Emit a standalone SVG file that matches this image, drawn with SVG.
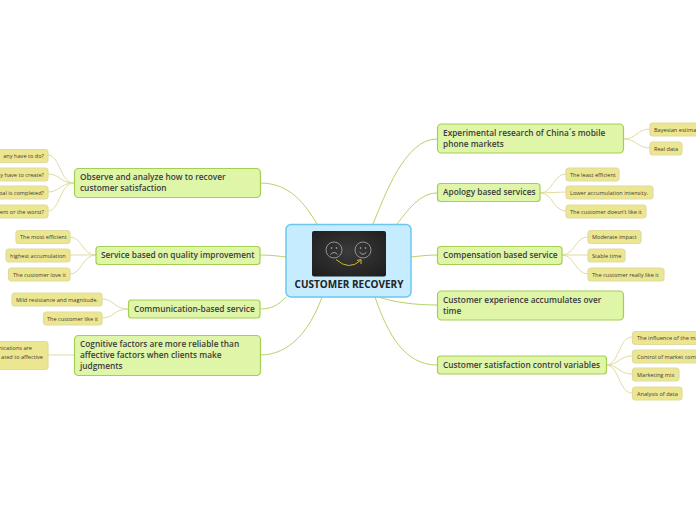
<svg xmlns="http://www.w3.org/2000/svg" width="696" height="520" viewBox="0 0 696 520">
<defs><radialGradient id="board" cx="50%" cy="45%" r="70%"><stop offset="0" stop-color="#3a3a3a"/><stop offset="1" stop-color="#1e1e1e"/></radialGradient></defs>
<style>
text{font-family:"Open Sans","Noto Sans","DejaVu Sans",sans-serif;fill:#3c3c3c}
.m rect{fill:#dff5a8;stroke:#a5cf50;stroke-width:1.2}
.m text{font-size:8.3px;font-weight:600}
.s rect{fill:#ece690;stroke:#e0dca0;stroke-width:1.2}
.s text{font-size:5.6px}
#connectors path{fill:none;stroke-width:1}
.a{stroke:#b5d36a}
.b{stroke:#e0dca0}
</style>
<rect width="696" height="520" fill="#ffffff"/>
<g id="connectors">
<path class="a" d="M317 224C305 204 290 183 260 183"/>
<path class="a" d="M286 257C278 256 270 255 260 255"/>
<path class="a" d="M286 297C278 305 272 309 260 309"/>
<path class="a" d="M322 297C310 330 290 355 260 355"/>
<path class="a" d="M373 224C385 195 405 139 437 139"/>
<path class="a" d="M397 224C408 210 420 193 437 193"/>
<path class="a" d="M411 257C420 256 428 255 437 255"/>
<path class="a" d="M379 297C392 302 415 305 437 305"/>
<path class="a" d="M375 297C388 335 405 365 437 365"/>
<path class="b" d="M74 183C60 183 60 155 48 155"/>
<path class="b" d="M74 183C60 183 60 174 48 174"/>
<path class="b" d="M74 183C60 183 60 192 48 192"/>
<path class="b" d="M74 183C60 183 60 211 48 211"/>
<path class="b" d="M96 255C82 255 82 237 70 237"/>
<path class="b" d="M96 255L70 255"/>
<path class="b" d="M96 255C82 255 82 274 70 274"/>
<path class="b" d="M128 309C114 309 114 299 102 299"/>
<path class="b" d="M128 309C114 309 114 318 102 318"/>
<path class="b" d="M74 355L48 355"/>
<path class="b" d="M623 139C637 139 637 129 650 129"/>
<path class="b" d="M623 139C637 139 637 148 650 148"/>
<path class="b" d="M540 193C553 193 553 174 566 174"/>
<path class="b" d="M540 193L566 192"/>
<path class="b" d="M540 193C553 193 553 211 566 211"/>
<path class="b" d="M562 255C575 255 575 237 588 237"/>
<path class="b" d="M562 255L588 255"/>
<path class="b" d="M562 255C575 255 575 274 588 274"/>
<path class="b" d="M606 365C619 365 619 337 632 337"/>
<path class="b" d="M606 365C619 365 619 356 632 356"/>
<path class="b" d="M606 365C619 365 619 374 632 374"/>
<path class="b" d="M606 365C619 365 619 393 632 393"/>
</g>
<g id="center">
<rect x="286" y="224.500" width="125" height="72.500" rx="5" fill="#c5ecff" stroke="#6cc6f0" stroke-width="1.500"/>
<rect x="312" y="231" width="74" height="45.500" rx="2" fill="url(#board)"/>
<circle cx="334" cy="250" r="8" fill="none" stroke="#aaaaaa" stroke-width="0.800"/>
<circle cx="363" cy="250" r="8" fill="none" stroke="#aaaaaa" stroke-width="0.800"/>
<circle cx="331.500" cy="248" r="0.800" fill="#bbbbbb"/><circle cx="336.500" cy="248" r="0.800" fill="#bbbbbb"/>
<circle cx="360.500" cy="248" r="0.800" fill="#bbbbbb"/><circle cx="365.500" cy="248" r="0.800" fill="#bbbbbb"/>
<path d="M330.500 254.500Q334 250.500 337.500 254.500M359.500 252Q363 256.500 366.500 252" fill="none" stroke="#bbbbbb" stroke-width="0.800"/>
<path d="M336 259.500Q349 271 360.500 260.500M357 260.500L361 259.500L361 264" fill="none" stroke="#d8b820" stroke-width="1"/>
<text x="349" y="288" text-anchor="middle" style="font-size:10px;font-weight:700;fill:#222222">CUSTOMER RECOVERY</text>
</g>
<g id="n1" class="m"><rect x="74.500" y="168.500" width="186" height="29" rx="4"/><text x="80" y="180">Observe and analyze how to recover</text><text x="80" y="191">customer satisfaction</text></g>
<g id="n2" class="m"><rect x="96" y="246.500" width="164" height="18" rx="3"/><text x="101" y="258">Service based on quality improvement</text></g>
<g id="n3" class="m"><rect x="128.500" y="300" width="131.500" height="18" rx="3"/><text x="134" y="312">Communication-based service</text></g>
<g id="n4" class="m"><rect x="74.500" y="335.500" width="186" height="40" rx="4"/><text x="80" y="347">Cognitive factors are more reliable than</text><text x="80" y="358">affective factors when clients make</text><text x="80" y="369">judgments</text></g>
<g id="r1" class="m"><rect x="437.500" y="124" width="186" height="29" rx="4"/><text x="443" y="136">Experimental research of China´s mobile</text><text x="443" y="147">phone markets</text></g>
<g id="r2" class="m"><rect x="437.500" y="183.500" width="102.500" height="18" rx="3"/><text x="443" y="195">Apology based services</text></g>
<g id="r3" class="m"><rect x="437.500" y="246.500" width="124.500" height="18" rx="3"/><text x="443" y="258">Compensation based service</text></g>
<g id="r4" class="m"><rect x="437.500" y="291" width="186" height="29" rx="4"/><text x="443" y="303">Customer experience accumulates over</text><text x="443" y="314">time</text></g>
<g id="r5" class="m"><rect x="437.500" y="356" width="169" height="18" rx="3"/><text x="443" y="368">Customer satisfaction control variables</text></g>
<g id="s1" class="s"><rect x="-20" y="149.500" width="68" height="13" rx="3"/><text x="44" y="158" text-anchor="end">any have to do?</text></g>
<g id="s2" class="s"><rect x="-20" y="168" width="68" height="13" rx="3"/><text x="44" y="176.500" text-anchor="end">y have to create?</text></g>
<g id="s3" class="s"><rect x="-20" y="186" width="68" height="13" rx="3"/><text x="44" y="195" text-anchor="end">oal is completed?</text></g>
<g id="s4" class="s"><rect x="-20" y="205" width="68" height="13" rx="3"/><text x="44" y="213.500" text-anchor="end">ent or the worst?</text></g>
<g id="s5" class="s"><rect x="16" y="230.500" width="54" height="13" rx="3"/><text x="20" y="239">The most efficient</text></g>
<g id="s6" class="s"><rect x="6" y="249" width="64" height="13" rx="3"/><text x="10" y="258">highest accumulation</text></g>
<g id="s7" class="s"><rect x="8.500" y="268" width="61.500" height="13" rx="3"/><text x="13" y="276.500">The customer love it</text></g>
<g id="s8" class="s"><rect x="12" y="293" width="90" height="13" rx="3"/><text x="16" y="302">Mild resistance and magnitude.</text></g>
<g id="s9" class="s"><rect x="43.500" y="312" width="58.500" height="13" rx="3"/><text x="47" y="321">The customer like it</text></g>
<g id="s10" class="s"><rect x="-20" y="341.500" width="68" height="28" rx="3"/><text x="32" y="350" text-anchor="end">nications are</text><text x="43" y="358.500" text-anchor="end">ated to affective</text></g>
<g id="t1" class="s"><rect x="650" y="123" width="60" height="13" rx="3"/><text x="654" y="131.500">Bayesian estimat</text></g>
<g id="t2" class="s"><rect x="650" y="142" width="32" height="13" rx="3"/><text x="654" y="151">Real data</text></g>
<g id="t3" class="s"><rect x="566" y="168" width="53" height="13" rx="3"/><text x="570" y="177">The least efficient</text></g>
<g id="t4" class="s"><rect x="566" y="186" width="87" height="13" rx="3"/><text x="570" y="195">Lower accumulation intensity.</text></g>
<g id="t5" class="s"><rect x="566" y="205" width="80" height="13" rx="3"/><text x="570" y="214">The customer doesn't like it</text></g>
<g id="t6" class="s"><rect x="588" y="230.500" width="53" height="13" rx="3"/><text x="592" y="239">Moderate impact</text></g>
<g id="t7" class="s"><rect x="588" y="249" width="37" height="13" rx="3"/><text x="592" y="258">Stable time</text></g>
<g id="t8" class="s"><rect x="588" y="268" width="76" height="13" rx="3"/><text x="592" y="277">The customer really like it</text></g>
<g id="t9" class="s"><rect x="632.500" y="331.500" width="80" height="13" rx="3"/><text x="637" y="340">The influence of the ma</text></g>
<g id="t10" class="s"><rect x="632.500" y="350" width="80" height="13" rx="3"/><text x="637" y="359">Control of market com</text></g>
<g id="t11" class="s"><rect x="632.500" y="368" width="46.500" height="13" rx="3"/><text x="637" y="377">Marketing mix</text></g>
<g id="t12" class="s"><rect x="632.500" y="387" width="49.500" height="13" rx="3"/><text x="637" y="396">Analysis of data</text></g>
</svg>
